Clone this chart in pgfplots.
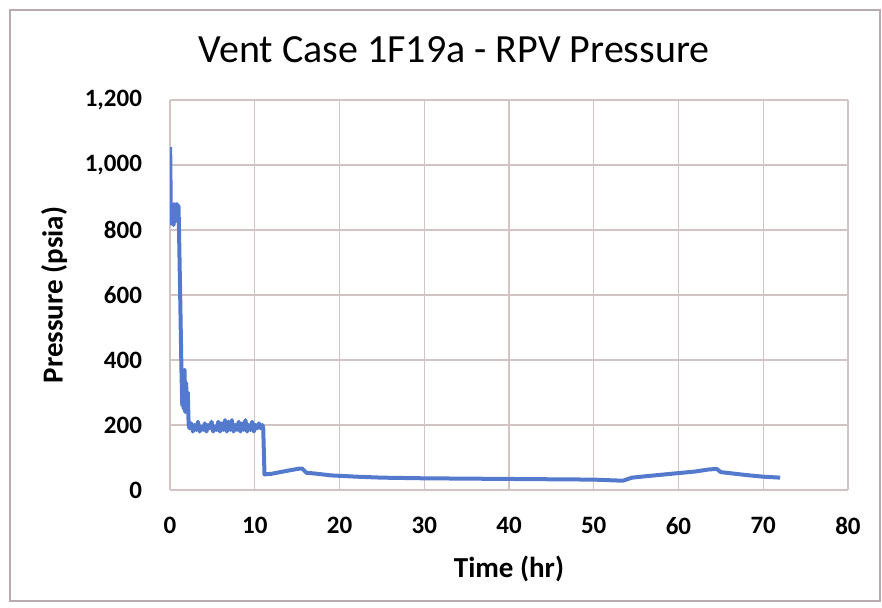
\documentclass[border=0pt]{standalone}
\usepackage{fontspec}
\setmainfont{Carlito}
\usepackage{pgfplots}
\pgfplotsset{compat=1.18}
\definecolor{excelblue}{RGB}{84,122,206}
\definecolor{gridc}{RGB}{210,196,196}
\definecolor{framec}{RGB}{185,170,175}
\begin{document}
\begin{tikzpicture}[x=0.5pt,y=0.5pt]
% chart area (882 x 607 px, 1px = 0.5pt)
\path (0,0) rectangle (882,607);
\draw[framec,line width=1pt] (10,6) rectangle (880,597);
\node[font=\fontsize{20}{24}\selectfont] at (454,557) {Vent Case 1F19a - RPV Pressure};
\begin{axis}[at={(85pt,58.5pt)},anchor=south west,scale only axis,
  width=339pt,height=195pt,
  xmin=0,xmax=80,ymin=0,ymax=1200,
  xtick={0,10,...,80},ytick={0,200,...,1200},
  grid=major,major grid style={gridc,line width=0.6pt},
  axis line style={draw=none},major tick length=0pt,
  tick label style={font=\fontsize{12.5}{15}\selectfont\bfseries},
  /pgf/number format/assume math mode=true,
  /pgf/number format/1000 sep={,},
  yticklabel style={xshift=-10.5pt},
  xticklabel style={yshift=-10pt},
  xlabel={Time (hr)},ylabel={Pressure (psia)},
  label style={font=\fontsize{14.5}{17}\selectfont\bfseries},
  xlabel style={yshift=-4pt},
  ylabel style={yshift=2pt}]
\addplot[excelblue,line width=2pt,line join=round] coordinates {
 (0.02,1055)(0.08,900)(0.12,820)(0.2,880)(0.28,830)(0.35,875)(0.42,815)
 (0.5,880)(0.58,825)(0.66,875)(0.74,830)(0.82,880)(0.9,830)(1.0,875)(1.05,820)
 (1.2,600)(1.35,370)(1.45,260)(1.55,360)(1.62,250)(1.72,370)(1.8,240)
 (1.9,330)(2.0,260)(2.1,300)(2.2,200)
 (2.3,190)(2.5,205)(2.7,180)(2.9,200)(3.1,185)(3.3,210)(3.5,180)(3.7,195)
 (3.9,185)(4.1,205)(4.3,180)(4.5,200)(4.7,190)(4.9,210)(5.1,180)(5.3,195)
 (5.5,185)(5.7,210)(5.9,180)(6.1,205)(6.3,185)(6.5,215)(6.7,180)(6.9,210)
 (7.1,185)(7.3,215)(7.5,180)(7.7,200)(7.9,185)(8.1,210)(8.3,180)(8.5,205)
 (8.7,185)(8.9,215)(9.1,180)(9.3,200)(9.5,185)(9.7,210)(9.9,180)(10.1,200)
 (10.3,190)(10.5,205)(10.7,190)(10.9,200)(11.0,190)(11.15,48)
 (12,50)(13,55)(14,60)(15.3,66)(15.6,66)(16.1,53)(17,51)(19,45)(22,41)
 (25,38)(30,36)(35,35)(40,34)(45,33)(50,32)(53,29)(53.5,29)(54.5,38)
 (56,42)(58,47)(60,52)(62,57)(63.5,63)(64.5,65)(65,55)(66,52)(68,46)
 (70,41)(72,38)};
\end{axis}
\end{tikzpicture}
\end{document}
